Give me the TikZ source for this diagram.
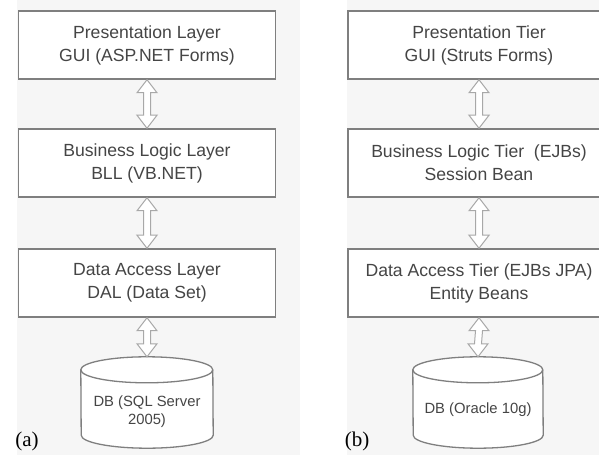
\documentclass[tikz,border=0pt]{standalone}
\usepackage{fontspec}
\setmainfont{Liberation Serif}
\setsansfont{Liberation Sans}
\usetikzlibrary{calc}

\definecolor{panelgray}{HTML}{F6F6F6}
\definecolor{boxline}{HTML}{7F7F7F}
\definecolor{textgray}{HTML}{454545}
\definecolor{arrowline}{HTML}{A8A8A8}

% hollow double arrow between two stacked nodes
\newcommand{\bothways}[2]{%
  \draw[hollowarrow] (#1.south) -- ++(10,-13) -- ++(-6.5,0) -- ($(#2.north)+(3.5,13)$)
    -- ++(6.5,0) -- (#2.north) -- ++(-10,13) -- ++(6.5,0) -- ($(#1.south)+(-3.5,-13)$)
    -- ++(-6.5,0) -- cycle;}

% drum drawn round an empty node
\newcommand{\drum}[2]{%
  \draw[drumline] ([yshift=-13]#1.north west) arc[start angle=180,end angle=0,x radius=#2,y radius=13]
    -- ([yshift=13]#1.south east) arc[start angle=0,end angle=-180,x radius=#2,y radius=13] -- cycle;
  \draw[drumline,fill=none] ([yshift=-13]#1.north west) arc[start angle=180,end angle=360,x radius=#2,y radius=13];}

\begin{document}
\begin{tikzpicture}[x=1pt,y=1pt,
    layer/.style={draw=boxline, line width=1.5pt, fill=white, text=textgray, align=center,
      font=\sffamily\fontsize{17.6}{23}\selectfont, minimum height=68, inner sep=0pt},
    dbshape/.style={minimum height=91, inner sep=0pt},
    dbtext/.style={text=textgray, align=center, font=\sffamily\fontsize{14.8}{17.5}\selectfont},
    drumline/.style={draw=boxline, line width=1.3pt, fill=white},
    hollowarrow/.style={draw=arrowline, line width=1pt, fill=white, line join=miter},
    caption/.style={font=\fontsize{21}{24}\selectfont}]
  \clip (0,0) rectangle (599,455);
  \fill[panelgray] (17,0) rectangle (300,455);
  \fill[panelgray] (347,0) rectangle (599,455);

  % (a)
  \node[layer, minimum width=257] at (147,410) (pla) {Presentation Layer\\GUI (ASP.NET Forms)};
  \node[layer, minimum width=257] at (147,292) (bla) {Business Logic Layer\\BLL (VB.NET)};
  \node[layer, minimum width=257] at (147,172) (dla) {Data Access Layer\\DAL (Data Set)};
  \node[dbshape, minimum width=132] at (147,52.5) (dba) {};
  \drum{dba}{66}
  \node[dbtext] at ($(dba)+(0,-9)$) (dbla) {DB (SQL Server\\2005)};

  \bothways{pla}{bla}
  \bothways{bla}{dla}
  \bothways{dla}{dba}

  % (b)
  \node[layer, minimum width=262] at (479,410) (plb) {Presentation Tier\\GUI (Struts Forms)};
  \node[layer, minimum width=262] at (479,292) (blb) {Business Logic Tier\ \ (EJBs)\\Session Bean};
  \node[layer, minimum width=262] at (479,172) (dlb) {Data Access Tier (EJBs JPA)\\Entity Beans};
  \node[dbshape, minimum width=130] at (478,52.5) (dbb) {};
  \drum{dbb}{65}
  \node[dbtext] at ($(dbb)+(0,-7)$) (dblb) {DB (Oracle 10g)};

  \bothways{plb}{blb}
  \bothways{blb}{dlb}
  \bothways{dlb}{dbb}

  \node[caption] at (27,14) (capa) {(a)};
  \node[caption] at (357,14) (capb) {(b)};
\end{tikzpicture}
\end{document}
